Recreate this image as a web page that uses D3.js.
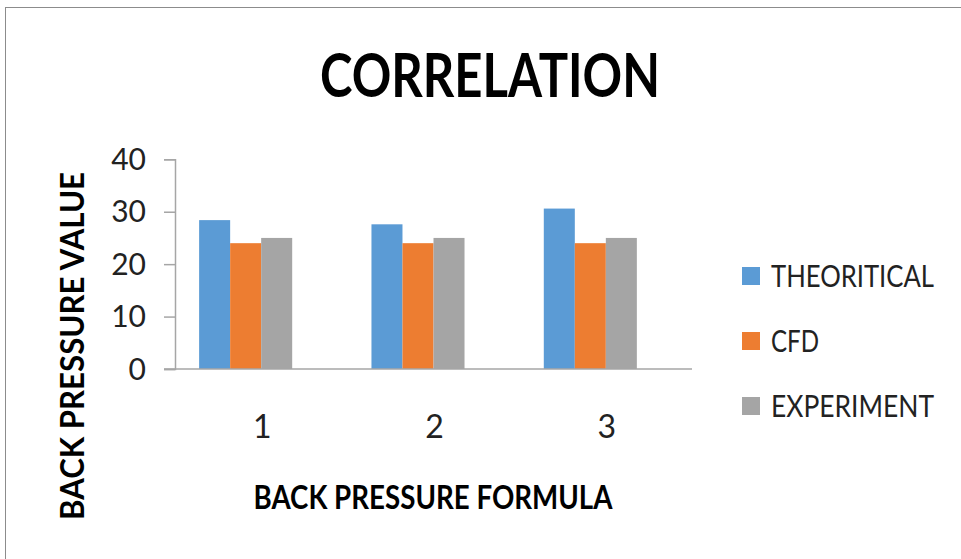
<!DOCTYPE html>
<html><head><meta charset="utf-8">
<script src="https://cdn.jsdelivr.net/npm/d3@7"></script>
<style>html,body{margin:0;padding:0;background:#fff;overflow:hidden}</style>
</head><body>
<svg id="c" width="961" height="559"></svg>
<script>
const categories = ["1", "2", "3"];
const seriesNames = ["THEORITICAL", "CFD", "EXPERIMENT"];
const theoritical = [28.4, 27.6, 30.6];
const cfd = [24, 24, 24];
const experiment = [25, 25, 25];
const yTicks = [0, 10, 20, 30, 40];
const colors = ["#5b9bd5", "#ed7d31", "#a5a5a5"];
const seriesValues = [theoritical, cfd, experiment];

const svg = d3.select("#c");
const font = "Lato, 'Open Sans', sans-serif";

// outer border
svg.append("rect").attr("x", 5.5).attr("y", 7.5).attr("width", 980).attr("height", 600)
  .attr("fill", "none").attr("stroke", "#8c8c8c").attr("stroke-width", 1);

const plotLeft = 175, plotRight = 692, plotTop = 159.3, plotBottom = 369;
const x0 = d3.scaleBand().domain(categories).range([plotLeft, plotRight]).paddingInner(0.28).paddingOuter(0.14);
// four slots per group (last one empty), as in the source chart
const x1 = d3.scaleBand().domain(seriesNames.concat([""])).range([0, x0.bandwidth()]);
const y = d3.scaleLinear().domain([0, 40]).range([plotBottom, plotTop]);

// y axis
const yAxis = d3.axisLeft(y).tickValues(yTicks).tickSize(11).tickFormat(d3.format("d"));
const gy = svg.append("g").attr("transform", `translate(${plotLeft},0)`).call(yAxis);
gy.select(".domain").attr("stroke", "#a6a6a6").attr("stroke-width", 1.5);
gy.selectAll(".tick line").attr("stroke", "#a6a6a6").attr("stroke-width", 1.5);
gy.selectAll(".tick text").attr("font-family", font).attr("font-size", 30).attr("fill", "#222")
  .attr("x", -29).attr("dy", "0.34em");

// bars
const groups = svg.append("g").selectAll("g").data(categories).join("g")
  .attr("transform", d => `translate(${x0(d)},0)`);
groups.selectAll("rect").data((d, i) => seriesNames.map((s, j) => ({s, j, v: seriesValues[j][i]})))
  .join("rect")
  .attr("x", d => x1(d.s)).attr("width", x1.bandwidth())
  .attr("y", d => y(d.v)).attr("height", d => y(0) - y(d.v))
  .attr("fill", d => colors[d.j]);

// x axis
const xAxis = d3.axisBottom(x0).tickSize(0);
const gx = svg.append("g").attr("transform", `translate(0,${plotBottom})`).call(xAxis);
gx.select(".domain").remove();
svg.append("line").attr("x1", plotLeft - 11).attr("x2", plotRight).attr("y1", plotBottom).attr("y2", plotBottom)
  .attr("stroke", "#a6a6a6").attr("stroke-width", 1.5);
gx.selectAll(".tick text").attr("font-family", font).attr("font-size", 32).attr("fill", "#222")
  .attr("y", 69).attr("dy", "0").attr("x", 1);

// title
svg.append("text").attr("x", 490).attr("y", 97).attr("text-anchor", "middle")
  .attr("font-family", font).attr("font-weight", "bold").attr("font-size", 62)
  .attr("textLength", 340).attr("lengthAdjust", "spacingAndGlyphs").attr("fill", "#000")
  .text("CORRELATION");

// axis titles
svg.append("text").attr("x", 433).attr("y", 509).attr("text-anchor", "middle")
  .attr("font-family", font).attr("font-weight", "bold").attr("font-size", 32)
  .attr("textLength", 359).attr("lengthAdjust", "spacingAndGlyphs").attr("fill", "#000")
  .text("BACK PRESSURE FORMULA");
svg.append("text").attr("transform", "translate(84,346) rotate(-90)").attr("text-anchor", "middle")
  .attr("font-family", font).attr("font-weight", "bold").attr("font-size", 32)
  .attr("textLength", 348).attr("lengthAdjust", "spacingAndGlyphs").attr("fill", "#000")
  .text("BACK PRESSURE VALUE");

// legend
const legendWidths = [163, 48, 163];
const lg = svg.append("g").selectAll("g").data(seriesNames).join("g")
  .attr("transform", (d, i) => `translate(742,${276 + i * 65})`);
lg.append("rect").attr("x", 0).attr("y", -9).attr("width", 18).attr("height", 18)
  .attr("fill", (d, i) => colors[i]);
lg.append("text").attr("x", 29).attr("y", 11)
  .attr("font-family", font).attr("font-size", 30).attr("fill", "#222")
  .attr("textLength", (d, i) => legendWidths[i]).attr("lengthAdjust", "spacingAndGlyphs")
  .text(d => d);
</script>
</body></html>
